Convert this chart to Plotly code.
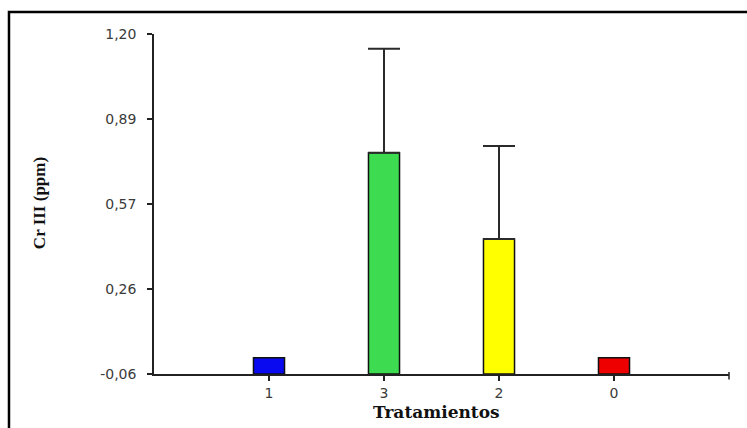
import plotly.graph_objects as go

# Treatment groups in plotting order
categories = ["1", "3", "2", "0"]
# Mean Cr III concentration (ppm) per treatment
means = [0.0, 0.76, 0.44, 0.0]
# Upper error (standard deviation) per treatment
errors = [0.0, 0.385, 0.345, 0.0]
bar_colors = ["#0a0af0", "#3ddc50", "#ffff00", "#ee0000"]

# Y axis scale and tick labels (decimal comma)
y_min, y_max = -0.06, 1.20
y_ticks = [-0.06, 0.255, 0.57, 0.885, 1.20]
y_tick_labels = ["-0,06", "0,26", "0,57", "0,89", "1,20"]

fig = go.Figure()

# Bars rise from the bottom of the value axis
fig.add_trace(go.Bar(
    x=categories,
    y=[m - y_min for m in means],
    base=y_min,
    width=0.27,
    marker=dict(color=bar_colors, line=dict(color="#111111", width=1.5)),
    hoverinfo="skip",
))

# Upper error bars, only where an error exists
err_x = [c for c, e in zip(categories, errors) if e > 0]
err_y = [m for m, e in zip(means, errors) if e > 0]
err_v = [e for e in errors if e > 0]
fig.add_trace(go.Scatter(
    x=err_x,
    y=err_y,
    mode="markers",
    marker=dict(size=1, color="rgba(0,0,0,0)"),
    error_y=dict(type="data", symmetric=False, array=err_v,
                 arrayminus=[0] * len(err_v),
                 color="#2a2a2a", thickness=2, width=16),
    hoverinfo="skip",
))

tick_font = dict(family="DejaVu Sans, Arial, sans-serif", size=14, color="#3a3a3a")

fig.update_layout(
    width=747,
    height=428,
    margin=dict(l=154, r=18, t=34, b=54),
    paper_bgcolor="white",
    plot_bgcolor="white",
    showlegend=False,
    xaxis=dict(
        type="category",
        range=[-1, 4],
        showgrid=False,
        zeroline=False,
        showline=True,
        linecolor="#222222",
        linewidth=1.5,
        ticks="outside",
        ticklen=5,
        tickwidth=1.5,
        tickcolor="#222222",
        tickfont=tick_font,
        ticklabelstandoff=0,
    ),
    yaxis=dict(
        range=[y_min, y_max],
        tickvals=y_ticks,
        ticktext=y_tick_labels,
        showgrid=False,
        zeroline=False,
        showline=True,
        linecolor="#222222",
        linewidth=1.5,
        ticks="outside",
        ticklen=5,
        tickwidth=1.5,
        tickcolor="#222222",
        tickfont=tick_font,
        ticklabelstandoff=8,
    ),
    shapes=[
        # outer frame
        dict(type="rect", xref="paper", yref="paper",
             x0=-0.2522, x1=1.06, y0=-0.2, y1=1.0647,
             line=dict(color="black", width=2.5), fillcolor="rgba(0,0,0,0)"),
        # end mark of the category axis
        dict(type="line", xref="paper", yref="paper",
             x0=1, x1=1, y0=0.006, y1=-0.016,
             line=dict(color="#222222", width=1.5)),
    ],
    annotations=[
        dict(text="<b>Cr III (ppm)</b>", xref="paper", yref="paper",
             x=-0.198, y=0.503, xanchor="center", yanchor="middle",
             textangle=-90, showarrow=False,
             font=dict(family="Liberation Serif, Times New Roman, serif",
                       size=17, color="#111111")),
        dict(text="<b>Tratamientos</b>", xref="paper", yref="paper",
             x=0.492, y=-0.112, xanchor="center", yanchor="middle",
             showarrow=False,
             font=dict(family="DejaVu Serif, serif", size=17, color="#111111")),
    ],
)

fig.write_html("out.html")
